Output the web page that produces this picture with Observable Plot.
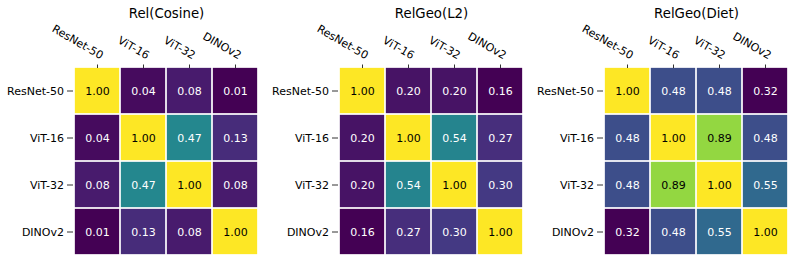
<!DOCTYPE html>
<html>
<head>
<meta charset="utf-8">
<script src="https://cdn.jsdelivr.net/npm/d3@7"></script>
<script src="https://cdn.jsdelivr.net/npm/@observablehq/plot@0.6"></script>
<style>
  html, body { margin: 0; padding: 0; background: #fff; }
  #wrap { display: flex; width: 797px; height: 263px; }
  svg { display: block; }
</style>
</head>
<body>
<div id="wrap"></div>
<script>
const models = ["ResNet-50", "ViT-16", "ViT-32", "DINOv2"];
const titles = ["Rel(Cosine)", "RelGeo(L2)", "RelGeo(Diet)"];
const cosine = [
  [1.00, 0.04, 0.08, 0.01],
  [0.04, 1.00, 0.47, 0.13],
  [0.08, 0.47, 1.00, 0.08],
  [0.01, 0.13, 0.08, 1.00]
];
const l2 = [
  [1.00, 0.20, 0.20, 0.16],
  [0.20, 1.00, 0.54, 0.27],
  [0.20, 0.54, 1.00, 0.30],
  [0.16, 0.27, 0.30, 1.00]
];
const diet = [
  [1.00, 0.48, 0.48, 0.32],
  [0.48, 1.00, 0.89, 0.48],
  [0.48, 0.89, 1.00, 0.55],
  [0.32, 0.48, 0.55, 1.00]
];
const matrices = [cosine, l2, diet];
const widths = [265, 265, 267];

const font = "DejaVu Sans, sans-serif";
const fs = 11;
const wrap = document.getElementById("wrap");

matrices.forEach((m, k) => {
  const data = [];
  m.forEach((row, i) => row.forEach((v, j) => data.push({row: models[i], col: models[j], v})));
  const vals = data.map(d => d.v);
  const lo = d3.min(vals), hi = d3.max(vals);
  const norm = v => (v - lo) / (hi - lo);
  const chart = Plot.plot({
    width: widths[k],
    height: 263,
    marginLeft: 73,
    marginRight: widths[k] - 265 + 6,
    marginTop: 67,
    marginBottom: 8,
    style: {fontFamily: font, fontSize: fs + "px", color: "#000", background: "#fff"},
    x: {domain: models, padding: 0, label: null},
    y: {domain: models, padding: 0, label: null},
    color: {type: "linear", scheme: "viridis", domain: [lo, hi]},
    marks: [
      Plot.cell(data, {x: "col", y: "row", fill: "v", inset: 0.85}),
      Plot.text(data.filter(d => norm(d.v) <= 0.6), {x: "col", y: "row", text: d => d.v.toFixed(2), fill: "white", fontSize: fs}),
      Plot.text(data.filter(d => norm(d.v) > 0.6), {x: "col", y: "row", text: d => d.v.toFixed(2), fill: "black", fontSize: fs}),
      Plot.axisX({anchor: "top", tickSize: 3.5, tickFormat: () => "", label: null, stroke: "#333"}),
      Plot.text(models, {x: d => d, frameAnchor: "top", rotate: 30, textAnchor: "end", lineAnchor: "bottom", dx: 3, dy: -8, fontSize: fs, fill: "black"}),
      Plot.axisY({anchor: "left", tickSize: 6, tickPadding: 3.5, label: null, fontSize: fs, stroke: "#333"}),
      Plot.text([titles[k]], {frameAnchor: "top", lineAnchor: "middle", dy: -54, fontSize: 13.3, fill: "black"})
    ]
  });
  wrap.appendChild(chart);
});
</script>
</body>
</html>
